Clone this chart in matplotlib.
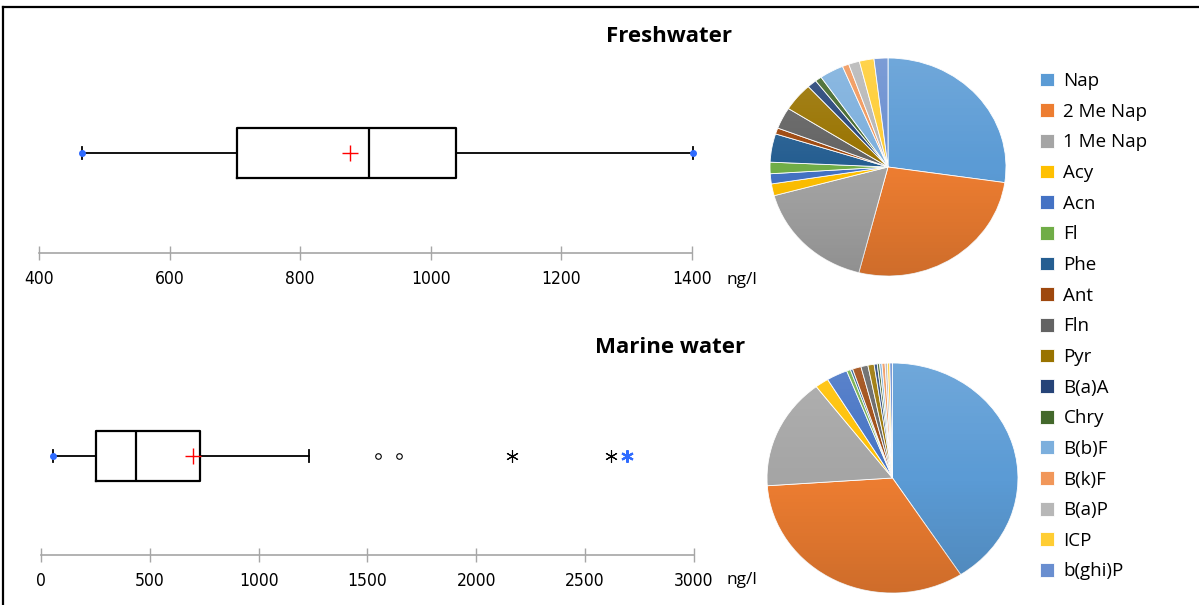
import matplotlib
matplotlib.use('Agg')
import matplotlib.pyplot as plt
from matplotlib.lines import Line2D
from matplotlib.patches import Circle
import numpy as np

# PAH profile shares (%)
pahs = ['Nap', '2 Me Nap', '1 Me Nap', 'Acy', 'Acn', 'Fl', 'Phe', 'Ant', 'Fln', 'Pyr',
        'B(a)A', 'Chry', 'B(b)F', 'B(k)F', 'B(a)P', 'ICP', 'b(ghi)P']
fresh_share = [27.3, 26.7, 16.8, 1.75, 1.5, 1.7, 4.2, 0.9, 3.2, 4.2, 1.3, 0.9, 3.3, 0.9, 1.5, 2.0, 1.9]
marine_share = [40.9, 33.1, 15.7, 1.75, 2.7, 0.5, 0.3, 1.1, 0.9, 0.8, 0.4, 0.3, 0.3, 0.4, 0.3, 0.3, 0.35]
pah_colors = ['#5B9BD5', '#ED7D31', '#A5A5A5', '#FFC000', '#4472C4', '#70AD47', '#255E91',
              '#9E480E', '#636363', '#997300', '#264478', '#43682B', '#7CAFDD', '#F1975A',
              '#B7B7B7', '#FFCD33', '#698ED0']

# total PAH concentration (ng/l), box plot statistics
fresh_stats = dict(whislo=466, q1=703, med=905, q3=1039, whishi=1402, mean=876)
fresh_minmax = [466, 1402]
fresh_ticks = [400, 600, 800, 1000, 1200, 1400]

marine_stats = dict(whislo=55, q1=253, med=436, q3=730, whishi=1231, mean=698)
marine_min = [55]
marine_mild = [1548, 1644]
marine_extreme = [2163, 2618]
marine_max = [2692]
marine_ticks = [0, 500, 1000, 1500, 2000, 2500, 3000]

W, H = 1199, 605
fig = plt.figure(figsize=(W / 100, H / 100), dpi=100)

def fbox(l, t, r, b):
    return [l / W, 1 - b / H, (r - l) / W, (b - t) / H]

text_font = ['Open Sans', 'DejaVu Sans']
blue = '#2F6BFF'


def draw_box(ax, stats, ticks):
    art = ax.bxp([stats], positions=[1], widths=0.5, orientation='horizontal',
                 showmeans=True, showfliers=False, capwidths=0.12,
                 boxprops=dict(color='black', linewidth=1.6),
                 medianprops=dict(color='black', linewidth=1.6),
                 whiskerprops=dict(color='black', linewidth=1.3),
                 capprops=dict(color='black', linewidth=1.3),
                 meanprops=dict(marker='+', markeredgecolor='red', markersize=11,
                                markeredgewidth=1.0, linestyle='none'))
    for group in art.values():
        for a in group:
            a.set_clip_on(False)
    ax.set_xlim(ticks[0], ticks[-1])
    ax.set_ylim(0, 2)
    for s in ['top', 'left', 'right']:
        ax.spines[s].set_visible(False)
    ax.spines['bottom'].set_color('#A6A6A6')
    ax.spines['bottom'].set_linewidth(1.2)
    ax.set_yticks([])
    ax.set_xticks(ticks)
    ax.set_xticklabels([str(t) for t in ticks], fontsize=12.5, family='DejaVu Sans',
                       fontstretch='condensed')
    ax.tick_params(axis='x', direction='inout', length=10, width=1, color='#A6A6A6', pad=7)
    ax.patch.set_visible(False)


# freshwater box plot
ax1 = fig.add_axes(fbox(39, 53, 692, 253))
draw_box(ax1, fresh_stats, fresh_ticks)
ax1.plot(fresh_minmax, [1] * len(fresh_minmax), 'o', color=blue, markersize=4, zorder=5,
         clip_on=False)

# marine box plot
ax2 = fig.add_axes(fbox(41, 357, 694, 555))
draw_box(ax2, marine_stats, marine_ticks)
ax2.plot(marine_min, [1] * len(marine_min), 'o', color=blue, markersize=4, zorder=5)
ax2.plot(marine_mild, [1] * len(marine_mild), 'o', mfc='none', mec='black', markersize=4, mew=0.8)
ax2.plot(marine_extreme, [1] * len(marine_extreme), marker=(6, 2, 0), color='black',
         linestyle='none', markersize=9, mew=0.8)
ax2.plot(marine_max, [1] * len(marine_max), marker=(6, 2, 0), color=blue,
         linestyle='none', markersize=9, mew=1.5)

fig.text(727 / W, 1 - 280 / H, 'ng/l', fontsize=12.5, family=text_font, va='center')
fig.text(726 / W, 1 - 580 / H, 'ng/l', fontsize=12.5, family=text_font, va='center')
fig.text(669 / W, 1 - 36 / H, 'Freshwater', fontsize=16, fontweight='bold', family=text_font,
         ha='center', va='center')
fig.text(670 / W, 1 - 348 / H, 'Marine water', fontsize=16, fontweight='bold', family=text_font,
         ha='center', va='center')

# shading like the spreadsheet's gradient fill
grad = np.zeros((100, 1, 4))
t = np.linspace(0, 1, 100)
grad[:, 0, :3] = np.where(t[:, None] < 0.5, 1.0, 0.0)
grad[:, 0, 3] = np.abs(t - 0.5) * 0.26


def draw_pie(ax, share):
    wedges, _ = ax.pie(share, colors=pah_colors, startangle=90, counterclock=False,
                       wedgeprops=dict(edgecolor='white', linewidth=0.6))
    ax.set_aspect('auto')
    clip = Circle((0, 0), 1.0, transform=ax.transData)
    im = ax.imshow(grad, extent=(-1, 1, -1, 1), aspect='auto', zorder=3)
    im.set_clip_path(clip)
    ax.set_xlim(-1.0, 1.0)
    ax.set_ylim(-1.0, 1.0)
    ax.axis('off')
    return wedges


pax1 = fig.add_axes(fbox(770, 58, 1006, 276))
wedges = draw_pie(pax1, fresh_share)
pax2 = fig.add_axes(fbox(767, 363, 1018, 593))
draw_pie(pax2, marine_share)

fig.legend(wedges, pahs, loc='upper left', bbox_to_anchor=(1040 / W, 1 - 72 / H),
           frameon=False, prop=dict(family=text_font, size=13.5), handlelength=0.75,
           handleheight=0.75, handletextpad=0.5, labelspacing=0.675, borderaxespad=0,
           borderpad=0)

# outer frame
fig.add_artist(Line2D([3 / W, 1], [1 - 7 / H, 1 - 7 / H], color='black', linewidth=1.6))
fig.add_artist(Line2D([3 / W, 3 / W], [0, 1 - 7 / H], color='black', linewidth=1.6))

fig.savefig('out.png', dpi=100)
